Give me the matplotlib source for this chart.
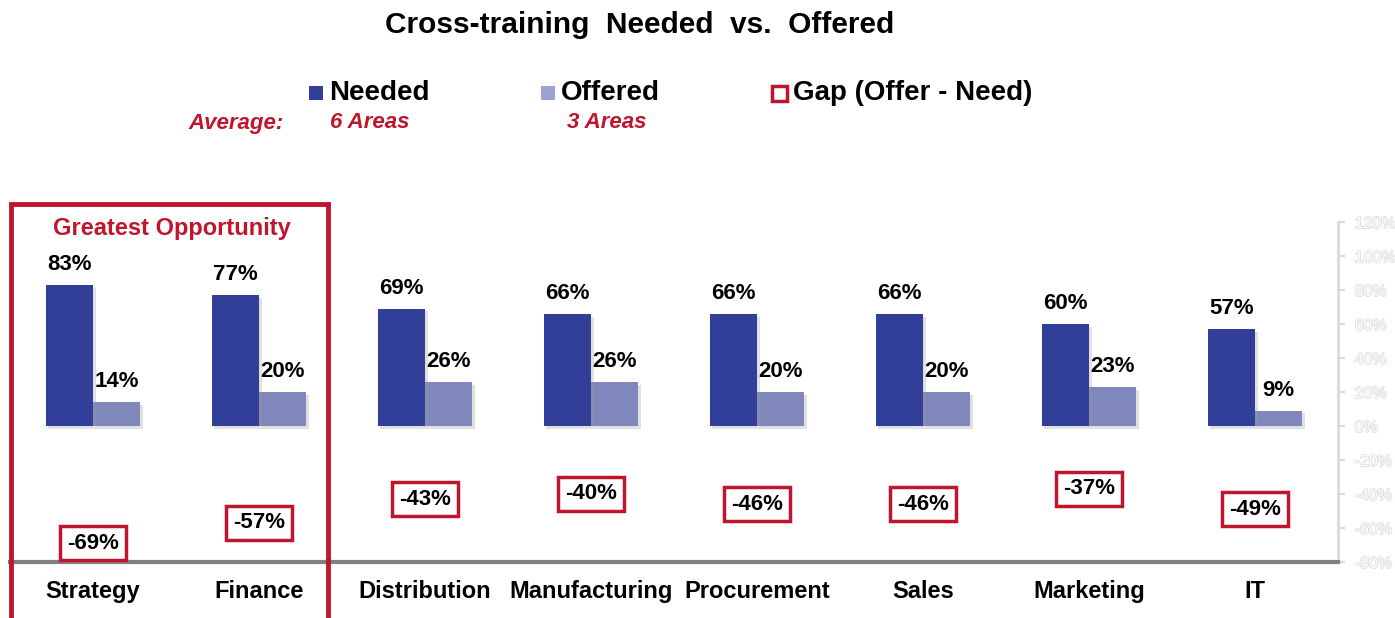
import matplotlib.pyplot as plt
import matplotlib.patheffects as pe
from matplotlib.patches import Rectangle
import numpy as np

plt.rcParams["font.family"] = ["Liberation Sans", "DejaVu Sans"]

categories = ["Strategy", "Finance", "Distribution", "Manufacturing",
              "Procurement", "Sales", "Marketing", "IT"]
needed = [83, 77, 69, 66, 66, 66, 60, 57]
offered = [14, 20, 26, 26, 20, 20, 23, 9]
gap = [-69, -57, -43, -40, -46, -46, -37, -49]
yticks = [-80, -60, -40, -20, 0, 20, 40, 60, 80, 100, 120]

blue = "#323f99"
light = "#8088bb"
red = "#c0162d"

fig = plt.figure(figsize=(13.95, 6.18), dpi=100)
ax = fig.add_axes([10 / 1395, 1 - 562 / 618, 1328 / 1395, 340 / 618])

x = np.arange(len(categories))
w = 0.285
shadow = [pe.SimplePatchShadow(offset=(2, -2), shadow_rgbFace="#999999", alpha=0.3), pe.Normal()]
b1 = ax.bar(x - w / 2, needed, w, color=blue, path_effects=shadow, zorder=3)
b2 = ax.bar(x + w / 2, offered, w, color=light, path_effects=shadow, zorder=2)
ax.bar_label(b1, labels=[f"{v}%" for v in needed], padding=7,
             fontsize=16, fontweight="bold")
ax.bar_label(b2, labels=[f"{v}%" for v in offered], padding=7,
             fontsize=16, fontweight="bold")

for xi, g in zip(x, gap):
    ax.text(xi, g, f"{g}%", ha="center", va="center", fontsize=16,
            fontweight="bold", zorder=5,
            bbox=dict(boxstyle="square,pad=0.3", fc="white", ec=red, lw=2.5))

ax.set_xlim(-0.5, len(categories) - 0.5)
ax.set_ylim(-80, 120)
ax.set_xticks(x)
ax.set_xticklabels(categories, fontsize=17, fontweight="bold")
ax.tick_params(axis="x", length=0, pad=13)

ax.yaxis.tick_right()
ax.set_yticks(yticks)
ax.set_yticklabels([f"{t}%" for t in yticks], fontsize=11.5, color="white")
for lab in ax.get_yticklabels():
    lab.set_path_effects([pe.withStroke(linewidth=1.2, foreground="#dddddd")])
ax.tick_params(axis="y", length=5, color="#d9d9d9", width=1.5, pad=7)

for s in ["top", "left"]:
    ax.spines[s].set_visible(False)
ax.spines["right"].set_color("#d9d9d9")
ax.spines["right"].set_linewidth(2)
ax.spines["bottom"].set_color("#808080")
ax.spines["bottom"].set_linewidth(3)

# highlight box
fig.patches.append(Rectangle((11 / 1395, -0.02), 317 / 1395, 1 - 204 / 618 + 0.02,
                             transform=fig.transFigure, fill=False, ec=red, lw=3.5))
fig.text(172 / 1395, 1 - 229 / 618, "Greatest Opportunity", color=red,
         fontsize=17, fontweight="bold", ha="center", va="center")

fig.text(640 / 1395, 1 - 25 / 618, "Cross-training  Needed  vs.  Offered",
         fontsize=21.5, fontweight="bold", ha="center", va="center")

# legend row
ly = 1 - 93 / 618
fig.patches.append(Rectangle((309 / 1395, 1 - 100 / 618), 14 / 1395, 14 / 618,
                             transform=fig.transFigure, fc=blue, ec="none"))
fig.text(329 / 1395, ly, "Needed", fontsize=20, fontweight="bold", va="center")
fig.patches.append(Rectangle((541 / 1395, 1 - 100 / 618), 14 / 1395, 14 / 618,
                             transform=fig.transFigure, fc="#9ca3d3", ec="none"))
fig.text(561 / 1395, ly, "Offered", fontsize=20, fontweight="bold", va="center")
fig.patches.append(Rectangle((772 / 1395, 1 - 101 / 618), 15 / 1395, 15 / 618,
                             transform=fig.transFigure, fc="white", ec=red, lw=2.5))
fig.text(793 / 1395, ly, "Gap (Offer - Need)", fontsize=20, fontweight="bold", va="center")

ay = 1 - 123 / 618
fig.text(188 / 1395, ay, "Average:", color=red, fontsize=16, fontweight="bold",
         style="italic", va="center")
fig.text(330 / 1395, ay, "6 Areas", color=red, fontsize=16, fontweight="bold",
         style="italic", va="center")
fig.text(567 / 1395, ay, "3 Areas", color=red, fontsize=16, fontweight="bold",
         style="italic", va="center")

fig.savefig("out.png", dpi=100)
